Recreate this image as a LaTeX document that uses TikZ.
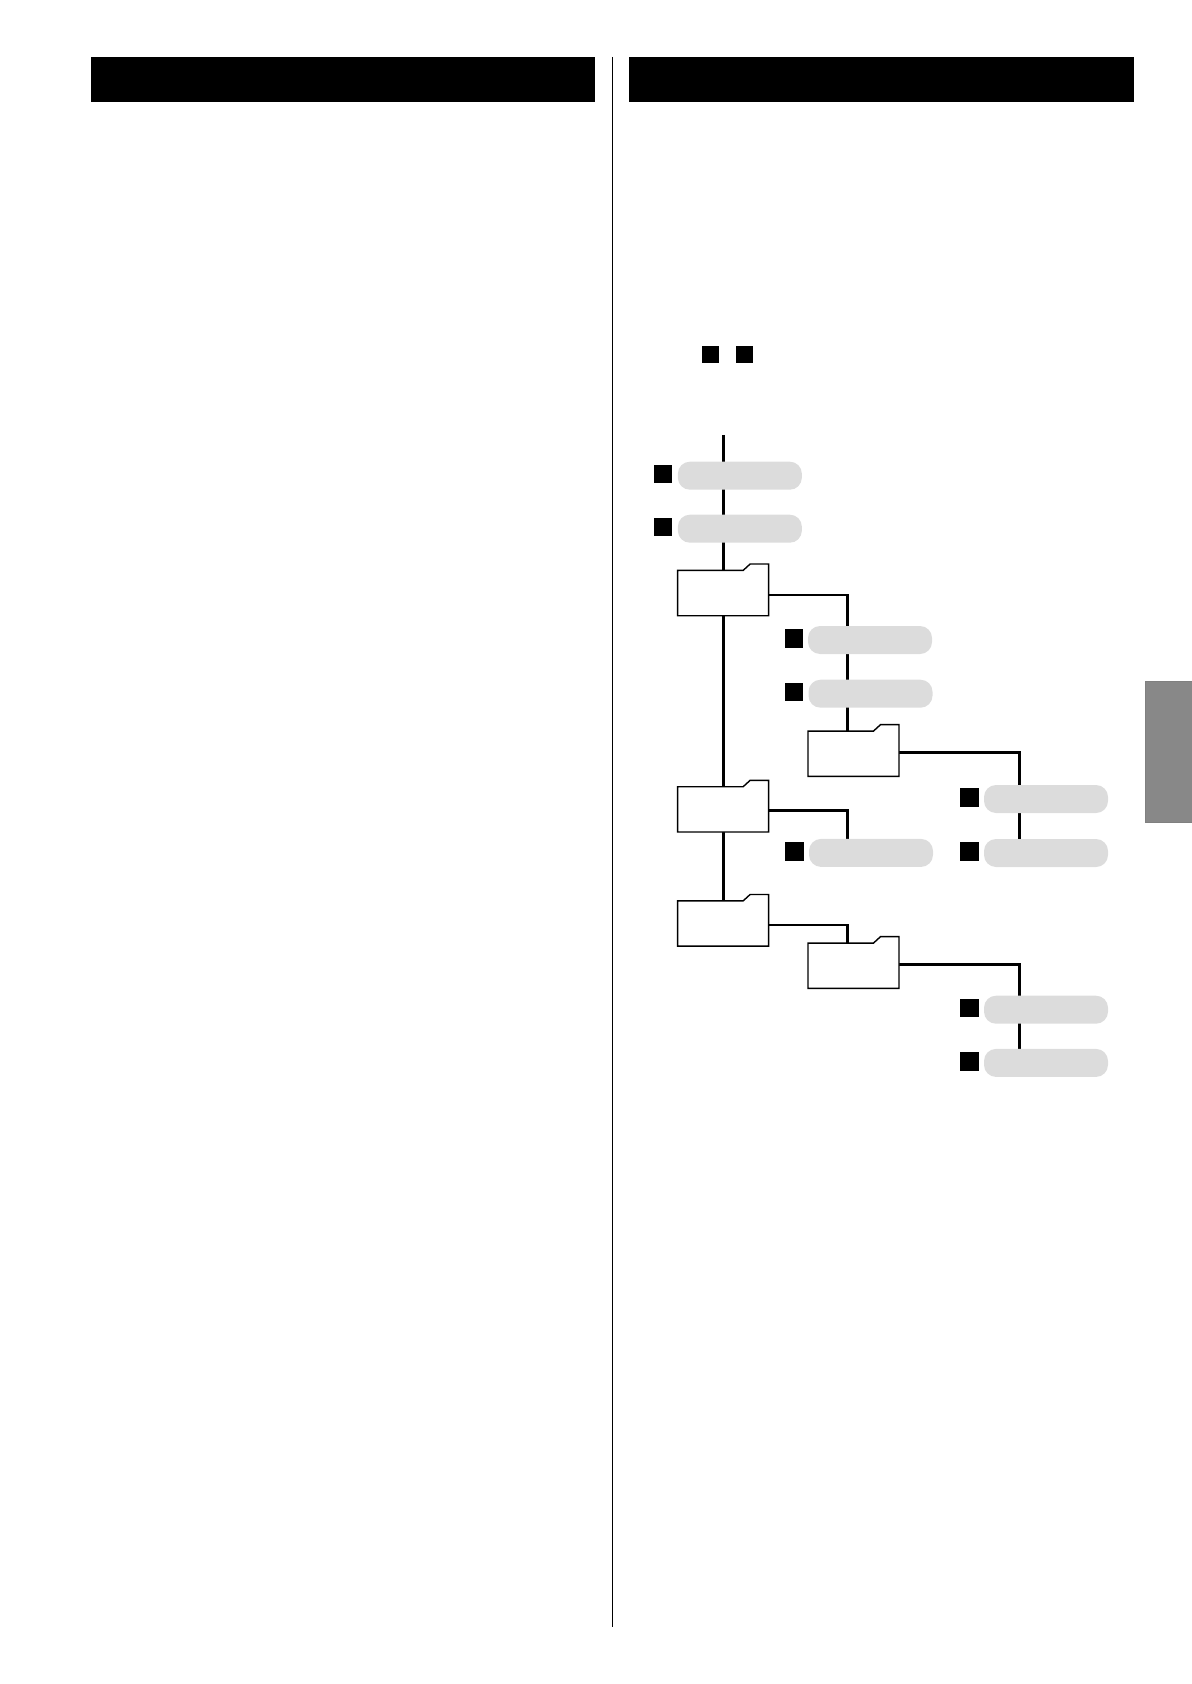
\documentclass[tikz,border=0pt]{standalone}
\usepackage{tikz}
\usetikzlibrary{positioning,backgrounds}
\definecolor{cPill}{HTML}{DCDCDC}
\definecolor{cTab}{HTML}{888888}
\definecolor{cTabEdge}{HTML}{808080}
\tikzset{
  headbar/.style={fill=black, inner sep=0pt, outer sep=0pt, minimum height=22.5pt, minimum width=252.2pt},
  sidetab/.style={fill=cTab, draw=cTabEdge, line width=0.5pt, inner sep=0pt, minimum width=24pt, minimum height=70.4pt},
  pill/.style={fill=cPill, rounded corners=6pt, inner sep=0pt, minimum width=62pt, minimum height=14pt},
  marker/.style={fill=black, inner sep=0pt, minimum size=9.25pt, yshift=0.8pt},
  smallmarker/.style={fill=black, inner sep=0pt, minimum size=8.5pt},
  folderbox/.style={inner sep=0pt, outer sep=0pt, minimum width=45.5pt, minimum height=25.85pt},
  folderline/.style={draw=black, fill=white, line width=0.7pt, line join=miter},
  conn/.style={line width=1.45pt, line join=miter},
  rule/.style={line width=0.6pt},
}
\newcommand{\foldernode}[2]{%
  \node[folderbox] (#1) at (#2) {};
  \draw[folderline] (#1.south west) -- ++(0,-45.3) -- ++(65.5,0) -- ++(7,-6.4)
    -- (#1.north east) -- (#1.south east) -- cycle;
}

\begin{document}
\begin{tikzpicture}[x=0.5pt, y=-0.5pt]
    \useasboundingbox (0,0) rectangle (1191,1684);

    \node[headbar] (headl) at (342.85,79.5) {};
    \node[headbar] (headr) at (881.5,79.5) {};
    \coordinate (divtop) at (612.4,57);
    \coordinate (divbot) at (612.4,1627);
    \draw[rule] (divtop) -- (divbot);
    \node[sidetab] (tab) at (1169.6,751.85) {};

    \node[smallmarker] (keya) at (710.5,354.5) {};
    \node[smallmarker, right=8.2pt of keya] (keyb) {};

    \node[pill] (p1) at (739.85,475.7) {};
    \node[pill] (p2) at (739.85,528.7) {};
    \node[pill] (p3) at (870,640) {};
    \node[pill] (p4) at (870.5,693.7) {};
    \node[pill] (p5) at (1046,799) {};
    \node[pill] (p6) at (1046,853) {};
    \node[pill] (p7) at (871,852.9) {};
    \node[pill] (p8) at (1046,1009.7) {};
    \node[pill] (p9) at (1046,1062.9) {};

    \node[marker, left=2.3pt of p1] (m1) {};
    \node[marker, left=2.3pt of p2] (m2) {};
    \node[marker, left=2.1pt of p3] (m3) {};
    \node[marker, left=2.3pt of p4] (m4) {};
    \node[marker, left=2.3pt of p5] (m5) {};
    \node[marker, left=2.3pt of p6] (m6) {};
    \node[marker, left=2.3pt of p7] (m7) {};
    \node[marker, left=2.3pt of p8] (m8) {};
    \node[marker, left=2.3pt of p9] (m9) {};

    \foldernode{fa}{723.15,589.85}
    \foldernode{fb}{723.15,806.15}
    \foldernode{fc}{723.15,920.3}
    \foldernode{fd}{853.5,750.5}
    \foldernode{fe}{853.5,962.5}

    \coordinate (start) at (723.15,435);
    \coordinate (ja) at (847.5,595);
    \coordinate (jb) at (847.5,810.3);
    \coordinate (jc) at (847.5,925);
    \coordinate (jd) at (1019.3,752.3);
    \coordinate (je) at (1019.3,964.3);

    \begin{scope}[on background layer]
      \draw[conn] (start) -- (fa.center) -- (fb.center) -- (fc.center);
      \draw[conn] (fa.east |- ja) -- (ja) -- (ja |- fd.center);
      \draw[conn] (fb.east |- jb) -- (jb) -- (jb |- p7.center);
      \draw[conn] (fc.east |- jc) -- (jc) -- (jc |- fe.center);
      \draw[conn] (fd.east |- jd) -- (jd) -- (jd |- p6.center);
      \draw[conn] (fe.east |- je) -- (je) -- (je |- p9.center);
    \end{scope}
\end{tikzpicture}
\end{document}
